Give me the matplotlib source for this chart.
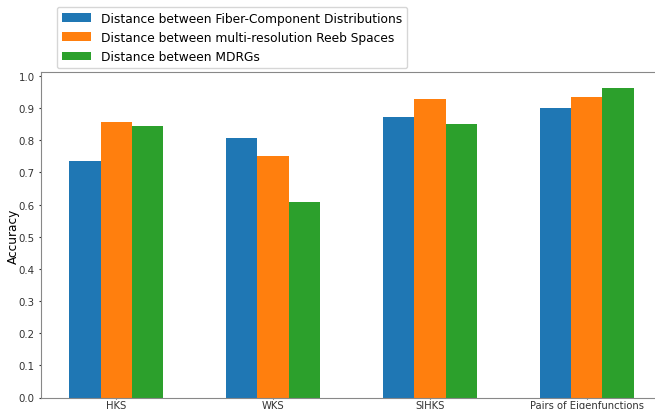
import matplotlib.pyplot as plt
import numpy as np

descriptors = ["HKS", "WKS", "SIHKS", "Pairs of Eigenfunctions"]
series_names = [
    "Distance between Fiber-Component Distributions",
    "Distance between multi-resolution Reeb Spaces",
    "Distance between MDRGs",
]
fiber_component = [0.736, 0.808, 0.871, 0.900]
reeb_spaces = [0.857, 0.750, 0.929, 0.935]
mdrgs = [0.843, 0.607, 0.849, 0.963]
colors = ["#1f77b4", "#ff7f0e", "#2ca02c"]

fig = plt.figure(figsize=(6.55, 4.1), dpi=100)
# axes run past the right edge, the original image was cropped there
ax = fig.add_axes([41 / 655, 11.5 / 410, 621 / 655, 325.2 / 410])

x = np.arange(len(descriptors))
width = 0.2
for i, vals in enumerate([fiber_component, reeb_spaces, mdrgs]):
    ax.bar(x + (i - 1) * width, vals, width, color=colors[i], label=series_names[i])

ax.set_xticks(x)
ax.set_xticklabels(descriptors, fontsize=7.2)
ax.set_yticks(np.arange(0, 1.01, 0.1))
ax.set_yticklabels([f"{v:.1f}" for v in np.arange(0, 1.01, 0.1)], fontsize=7.4)
ax.set_ylabel("Accuracy", fontsize=8.7)
ax.yaxis.set_label_coords(-0.034, 0.5)
for s in ax.spines.values():
    s.set_color("#888888")
ax.tick_params(colors="#333333", length=1.5, pad=3)
ax.tick_params(axis="x", length=1, pad=1)

fig.legend(loc="upper left", bbox_to_anchor=(57 / 655, 1 - 8 / 410),
           borderaxespad=0, fontsize=8.8, handlelength=2.4)

fig.savefig("out.png", dpi=100)
